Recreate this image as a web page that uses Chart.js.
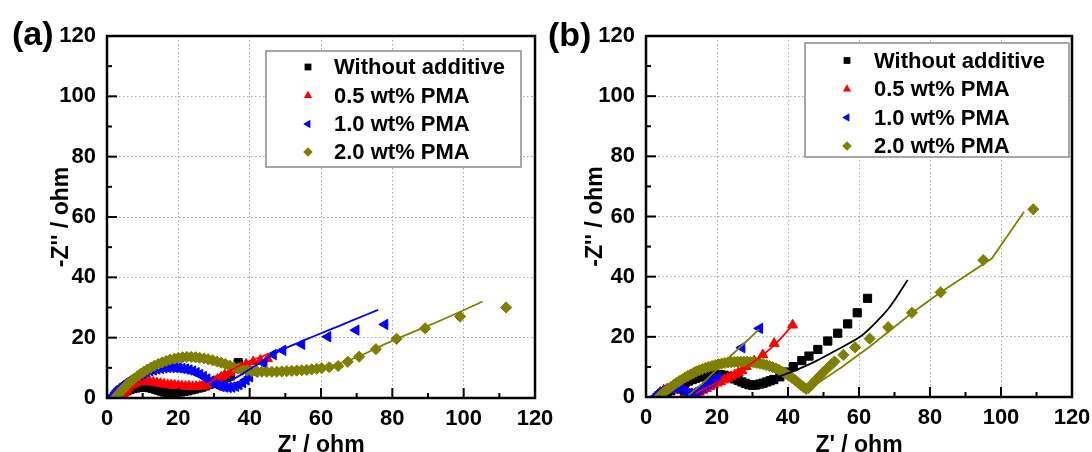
<!DOCTYPE html>
<html>
<head>
<meta charset="utf-8">
<script src="https://cdn.jsdelivr.net/npm/chart.js@4.4.1/dist/chart.umd.min.js"></script>
<style>
  html, body { margin: 0; padding: 0; background: #fff; }
  #wrap { position: relative; width: 1092px; height: 452px; overflow: hidden; }
  canvas { position: absolute; top: 0; }
  #chartA { left: 0; }
  #chartB { left: 546px; }
</style>
</head>
<body>
<div id="wrap">
  <canvas id="chartA" width="566" height="452"></canvas>
  <canvas id="chartB" width="546" height="452"></canvas>
</div>
<script>
const seriesLabels = ['Without additive', '0.5 wt% PMA', '1.0 wt% PMA', '2.0 wt% PMA'];
const seriesColors = ['#000000', '#ff0000', '#0000ff', '#808000'];
const majorTicks = [0, 20, 40, 60, 80, 100, 120];
const minorTicks = [10, 30, 50, 70, 90, 110];

// ---- panel (a) ----
const aWithoutX = [2.5, 3.2, 4, 4.8, 5.6, 6.4, 7.2, 8, 8.8, 9.6, 10.4, 11.2, 12, 12.8, 13.6, 14.4, 15.2, 16, 16.8, 17.6, 18.6, 19.6, 20.6, 21.6, 22.6, 23.6, 24.6, 25.6, 26.6, 27.6, 28.6, 29.6, 30.6, 31.6, 32.6, 33.6, 34.6, 36.8];
const aWithoutY = [0.3, 0.9, 1.5, 2.0, 2.4, 2.8, 3.1, 3.3, 3.5, 3.6, 3.6, 3.5, 3.4, 3.2, 2.9, 2.6, 2.3, 2.0, 1.8, 1.7, 1.7, 1.8, 2.0, 2.2, 2.4, 2.7, 3.0, 3.3, 3.6, 4.0, 4.5, 5.0, 5.5, 6.0, 6.4, 6.8, 7.3, 11.7];

const aPma05X = [4, 4.5, 5, 5.5, 6, 7, 8, 9, 10, 11, 12, 13, 14, 15, 16, 17, 18, 19, 20, 21, 22, 23, 24, 25, 26, 27, 28, 29, 30, 31, 32, 33, 34.5, 36, 37.5, 39, 41, 43, 45];
const aPma05Y = [0.3, 1.2, 2.0, 2.8, 3.4, 4.3, 4.9, 5.3, 5.5, 5.5, 5.4, 5.2, 5.0, 4.8, 4.6, 4.4, 4.3, 4.2, 4.1, 4.0, 3.9, 3.9, 3.8, 3.8, 3.9, 4.0, 4.3, 4.8, 5.5, 6.2, 6.9, 7.6, 8.4, 9.3, 10.2, 11.2, 12.0, 12.5, 13.0];

const aPma10X = [1.5, 2, 2.5, 3, 3.5, 4, 5, 6, 7, 8, 9, 10, 11, 12, 13, 14, 15, 16, 17, 18, 19, 20, 21, 22, 23, 24, 25, 26, 27, 28, 29, 30, 31, 32, 33, 34, 35, 36, 37, 38, 39, 40, 41.5, 44, 46.6, 49.3, 54.6, 61.9, 69.8, 77.9];
const aPma10Y = [0.2, 1.0, 1.8, 2.5, 3.1, 3.7, 4.6, 5.5, 6.3, 7.0, 7.6, 8.1, 8.6, 9.0, 9.3, 9.6, 9.8, 10.0, 10.1, 10.1, 10.1, 10.0, 9.8, 9.6, 9.3, 8.9, 8.4, 7.8, 7.1, 6.3, 5.5, 4.8, 4.2, 3.8, 3.6, 3.5, 3.6, 3.9, 4.4, 5.1, 6.0, 7.0, 8.6, 11.5, 14.4, 15.8, 17.8, 20.3, 22.5, 24.4];

const aPma20X = [2.5, 3, 3.5, 4, 4.6, 5.3, 6, 6.8, 7.6, 8.5, 9.4, 10.3, 11.3, 12.3, 13.3, 14.4, 15.5, 16.6, 17.7, 18.9, 20, 21.2, 22.4, 23.6, 24.8, 26, 27.2, 28.4, 29.6, 30.8, 32, 33.2, 34.4, 35.6, 36.8, 38, 39.3, 40.6, 42, 43.4, 44.8, 46.2, 47.6, 49, 50.4, 51.8, 53.2, 54.6, 56, 57.4, 58.8, 60.2, 62.3, 64.8, 67.5, 70.7, 75.4, 81.2, 89.2, 99, 111.9];
const aPma20Y = [0.3, 1.0, 1.7, 2.4, 3.2, 4.0, 4.8, 5.6, 6.4, 7.2, 8.0, 8.7, 9.4, 10.1, 10.7, 11.3, 11.8, 12.3, 12.7, 13.0, 13.3, 13.5, 13.6, 13.6, 13.5, 13.3, 13.1, 12.8, 12.5, 12.1, 11.7, 11.2, 10.7, 10.2, 9.8, 9.4, 9.1, 8.9, 8.8, 8.7, 8.7, 8.7, 8.7, 8.8, 8.9, 9.0, 9.1, 9.2, 9.3, 9.5, 9.7, 9.9, 10.2, 10.6, 12.0, 13.7, 16.2, 19.6, 23.1, 27.0, 30.0];

const aFit05X = [28, 32, 36, 40, 45.7];
const aFit05Y = [4.5, 7.5, 10.0, 12.2, 14.8];
const aFit10X = [30, 34, 38, 42, 48.5, 55, 62, 69, 76];
const aFit10Y = [4.0, 5.5, 8.0, 11.0, 15.7, 19.0, 22.4, 25.8, 29.2];
const aFit20X = [40, 48, 55, 60, 64, 68, 72, 76, 81.2, 89, 97, 105.3];
const aFit20Y = [9.0, 8.9, 9.3, 9.9, 11.0, 12.6, 14.5, 16.8, 19.6, 23.4, 27.5, 32.0];

// ---- panel (b) ----
const bWithoutX = [5, 6, 7, 8, 9, 10, 11, 12, 13, 14, 15, 16, 17, 18, 19, 20, 21, 22, 23, 24, 25, 26, 27, 28, 29, 30, 31, 32, 33, 34, 35, 36, 37.7, 39.6, 41.5, 43.9, 45.9, 48.4, 51.2, 54, 56.8, 59.5, 62.4];
const bWithoutY = [0.4, 1.3, 2.1, 2.9, 3.6, 4.2, 4.8, 5.3, 5.8, 6.2, 6.6, 6.9, 7.2, 7.4, 7.5, 7.5, 7.4, 7.2, 6.9, 6.5, 6.0, 5.5, 5.0, 4.5, 4.1, 3.9, 4.0, 4.3, 4.6, 5.0, 5.4, 5.8, 6.7, 8.3, 10.1, 12.1, 13.6, 15.8, 18.6, 21.2, 24.3, 28.0, 32.8];

const bPma05X = [3, 3.5, 4, 5, 6, 7, 8, 9, 10, 11, 12, 13, 14, 15, 16, 17, 18, 19, 20, 21, 22, 23, 24, 25, 26, 27, 28.2, 30.5, 32.9, 36.1, 41.3];
const bPma05Y = [0.3, 1.0, 1.6, 2.3, 2.7, 2.8, 2.7, 2.5, 2.1, 1.7, 1.3, 1.1, 1.2, 1.6, 2.2, 2.8, 3.4, 4.0, 4.6, 5.1, 5.7, 6.2, 6.8, 7.4, 8.1, 8.8, 10.1, 12.0, 14.0, 17.8, 23.9];

const bPma10X = [3, 3.5, 4, 4.5, 5, 6, 7, 8, 9, 10, 11, 12, 12.8, 13.6, 14.4, 15.2, 16, 16.8, 17.6, 18.4, 19.2, 20.2, 27, 32];
const bPma10Y = [0.3, 1.0, 1.6, 2.0, 2.4, 2.8, 3.0, 3.0, 2.8, 2.4, 1.8, 1.2, 1.0, 1.4, 2.0, 2.6, 3.2, 3.8, 4.4, 5.0, 5.8, 6.6, 16.4, 22.8];

const bPma20X = [4, 4.7, 5.4, 6.2, 7, 7.8, 8.6, 9.4, 10.2, 11, 11.8, 12.6, 13.4, 14.2, 15, 15.9, 16.8, 17.7, 18.6, 19.5, 20.4, 21.3, 22.2, 23.1, 24, 24.9, 25.8, 26.7, 27.6, 28.5, 29.4, 30.3, 31.2, 32.1, 33, 33.9, 34.8, 35.7, 36.6, 37.5, 38.4, 39.3, 40.2, 41.1, 42, 42.8, 43.6, 44.4, 45.1, 45.8, 46.5, 47.2, 48, 48.8, 49.6, 50.4, 51.3, 52.2, 53.1, 55.6, 58.9, 63, 68.2, 74.9, 83, 95, 109.1];
const bPma20Y = [0.5, 1.2, 1.9, 2.6, 3.3, 4.0, 4.7, 5.3, 5.9, 6.5, 7.0, 7.5, 8.0, 8.5, 8.9, 9.3, 9.7, 10.0, 10.3, 10.6, 10.9, 11.1, 11.3, 11.5, 11.6, 11.7, 11.7, 11.7, 11.7, 11.7, 11.6, 11.5, 11.3, 11.1, 10.9, 10.6, 10.3, 9.9, 9.5, 9.0, 8.4, 7.8, 7.1, 6.4, 5.6, 4.8, 4.0, 3.3, 2.7, 3.0, 3.9, 4.8, 5.8, 6.8, 7.8, 8.8, 9.8, 10.8, 11.8, 14.0, 16.5, 19.4, 23.2, 28.0, 34.8, 45.5, 62.4];

const bFitWithoutX = [30, 35, 38, 42.4, 48, 54, 60.3, 64.5, 68.7, 73.7];
const bFitWithoutY = [4.0, 5.5, 7.0, 9.0, 12.0, 15.8, 20.0, 24.5, 30.0, 38.9];
const bFit05X = [14, 20, 26, 30, 34, 38, 41.8];
const bFit05Y = [1.2, 4.8, 8.6, 11.4, 15.0, 19.5, 24.6];
const bFit10X = [12, 16, 20, 24, 28, 31.8];
const bFit10Y = [0.6, 4.6, 9.2, 13.8, 18.2, 22.5];
const bFit20X = [44, 49, 55, 63, 75, 83, 97.4, 106.5];
const bFit20Y = [2.5, 5.1, 9.8, 16.7, 28.0, 34.8, 46.0, 61.6];

const pts = (xs, ys) => xs.map((v, i) => ({x: v, y: ys[i]}));

function markers(idx, style, rotation, radius, xs, ys) {
  return {
    label: seriesLabels[idx],
    data: pts(xs, ys),
    showLine: false,
    pointStyle: style,
    rotation: rotation,
    pointRadius: radius,
    pointBorderWidth: 1,
    borderColor: seriesColors[idx],
    backgroundColor: seriesColors[idx],
    order: 4 - idx + 1
  };
}

function fitLine(idx, xs, ys, tension) {
  return {
    label: seriesLabels[idx] + ' fit',
    data: pts(xs, ys),
    showLine: true,
    pointRadius: 0,
    borderWidth: 1.8,
    borderColor: seriesColors[idx],
    backgroundColor: seriesColors[idx],
    tension: tension,
    order: 0
  };
}

const markerStyles = [['rect', 0, 5.8], ['triangle', 0, 5.8], ['triangle', -90, 6], ['rectRot', 0, 5.6]];

function drawLegendMarker(ctx, style, rot, r, x, y) {
  ctx.beginPath();
  if (style === 'rect') {
    const s = r * Math.SQRT1_2;
    ctx.rect(x - s, y - s, 2 * s, 2 * s);
  } else if (style === 'rectRot') {
    ctx.moveTo(x, y - r); ctx.lineTo(x + r, y); ctx.lineTo(x, y + r); ctx.lineTo(x - r, y);
    ctx.closePath();
  } else {
    let a = rot * Math.PI / 180;
    for (let k = 0; k < 3; k++) {
      const px = x + Math.sin(a) * r, py = y - Math.cos(a) * r;
      if (k === 0) ctx.moveTo(px, py); else ctx.lineTo(px, py);
      a += 2 * Math.PI / 3;
    }
    ctx.closePath();
  }
  ctx.fill();
}

const framePlugin = {
  id: 'frame',
  afterDraw(chart, args, opts) {
    const {ctx, chartArea: area} = chart;
    const xs = chart.scales.x, ys = chart.scales.y;
    ctx.save();
    ctx.strokeStyle = '#000';
    ctx.lineWidth = 2;
    const tick = (v, len) => {
      const px = xs.getPixelForValue(v);
      ctx.beginPath(); ctx.moveTo(px, area.bottom); ctx.lineTo(px, area.bottom - len); ctx.stroke();
      const py = ys.getPixelForValue(v);
      ctx.beginPath(); ctx.moveTo(area.left, py); ctx.lineTo(area.left + len, py); ctx.stroke();
    };
    majorTicks.forEach(v => tick(v, 10));
    minorTicks.forEach(v => tick(v, 5));
    ctx.lineWidth = 2.5;
    ctx.strokeRect(area.left, area.top, area.right - area.left, area.bottom - area.top);

    // legend box
    const b = opts.box;
    ctx.fillStyle = '#fff';
    ctx.fillRect(b[0], b[1], b[2] - b[0], b[3] - b[1]);
    ctx.strokeStyle = '#8a8a8a';
    ctx.lineWidth = 1.5;
    ctx.strokeRect(b[0], b[1], b[2] - b[0], b[3] - b[1]);
    ctx.font = 'bold 22px "Liberation Sans", Arial, sans-serif';
    ctx.textBaseline = 'middle';
    ctx.textAlign = 'left';
    opts.rows.forEach((ry, i) => {
      const m = markerStyles[i];
      ctx.fillStyle = seriesColors[i];
      drawLegendMarker(ctx, m[0], m[1], 4.8, opts.markerX, ry);
      ctx.fillStyle = '#000';
      ctx.fillText(seriesLabels[i], opts.textX, ry + 1);
    });

    // panel tag
    ctx.font = 'bold 34px "Liberation Sans", Arial, sans-serif';
    ctx.fillStyle = '#000';
    ctx.fillText(opts.tag, opts.tagX, opts.tagY);
    ctx.restore();
  }
};

const tickFont = {family: '"Liberation Sans", Arial, sans-serif', size: 22, weight: 'bold'};
const titleFont = {family: '"Liberation Sans", Arial, sans-serif', size: 23, weight: 'bold'};
const gridColor = '#a8a8a8';

function panelOptions(p) {
  return {
    responsive: false,
    animation: false,
    devicePixelRatio: 1,
    layout: {padding: {left: 0, top: p.top, right: p.right, bottom: 0}},
    plugins: {legend: {display: false}, tooltip: {enabled: false}, frame: p.frame},
    scales: {
      x: {
        type: 'linear', min: 0, max: 120,
        grid: {color: gridColor, lineWidth: 1, drawTicks: false, borderDash: [1.5, 2.5]},
        border: {display: false, dash: [1.5, 2.5]},
        ticks: {stepSize: 20, font: tickFont, color: '#000', padding: 8, maxRotation: 0, autoSkip: false},
        title: {display: true, text: "Z' / ohm", font: titleFont, color: '#000', padding: {top: 0, bottom: p.xTitlePad}},
        afterFit: s => { s.height = p.xHeight; s.paddingLeft = 0; s.paddingRight = 0; }
      },
      y: {
        type: 'linear', min: 0, max: 120,
        grid: {color: gridColor, lineWidth: 1, drawTicks: false, borderDash: [1.5, 2.5]},
        border: {display: false, dash: [1.5, 2.5]},
        ticks: {stepSize: 20, font: tickFont, color: '#000', padding: 11},
        title: {display: true, text: "-Z'' / ohm", font: titleFont, color: '#000', padding: {top: p.yTitlePad, bottom: 0}},
        afterFit: s => { s.width = p.yWidth; s.paddingTop = 0; s.paddingBottom = 0; }
      }
    }
  };
}

const ms = markerStyles;
const datasetsA = [
  markers(0, ms[0][0], ms[0][1], ms[0][2], aWithoutX, aWithoutY),
  markers(1, ms[1][0], ms[1][1], ms[1][2], aPma05X, aPma05Y),
  markers(2, ms[2][0], ms[2][1], ms[2][2], aPma10X, aPma10Y),
  markers(3, ms[3][0], ms[3][1], ms[3][2], aPma20X, aPma20Y),
  fitLine(1, aFit05X, aFit05Y, 0.2),
  fitLine(2, aFit10X, aFit10Y, 0.2),
  fitLine(3, aFit20X, aFit20Y, 0.3)
];

const datasetsB = [
  markers(0, ms[0][0], ms[0][1], ms[0][2], bWithoutX, bWithoutY),
  markers(1, ms[1][0], ms[1][1], ms[1][2], bPma05X, bPma05Y),
  markers(2, ms[2][0], ms[2][1], ms[2][2], bPma10X, bPma10Y),
  markers(3, ms[3][0], ms[3][1], ms[3][2], bPma20X, bPma20Y),
  fitLine(0, bFitWithoutX, bFitWithoutY, 0.3),
  fitLine(1, bFit05X, bFit05Y, 0.1),
  fitLine(3, bFit10X, bFit10Y, 0.1),
  fitLine(3, bFit20X, bFit20Y, 0)
];

new Chart(document.getElementById('chartA'), {
  type: 'scatter',
  data: {datasets: datasetsA},
  options: panelOptions({
    top: 36, right: 31, xHeight: 54, yWidth: 107, xTitlePad: -7, yTitlePad: 48,
    frame: {box: [266, 51, 521, 167], rows: [67, 95.5, 124, 152], markerX: 308, textX: 334, tag: '(a)', tagX: 12, tagY: 36}
  }),
  plugins: [framePlugin]
});

new Chart(document.getElementById('chartB'), {
  type: 'scatter',
  data: {datasets: datasetsB},
  options: panelOptions({
    top: 36, right: 20, xHeight: 55, yWidth: 100, xTitlePad: -7, yTitlePad: 36,
    frame: {box: [259, 43, 523, 157], rows: [60.5, 89, 117.5, 146], markerX: 301, textX: 328, tag: '(b)', tagX: 2, tagY: 37}
  }),
  plugins: [framePlugin]
});
</script>
</body>
</html>
